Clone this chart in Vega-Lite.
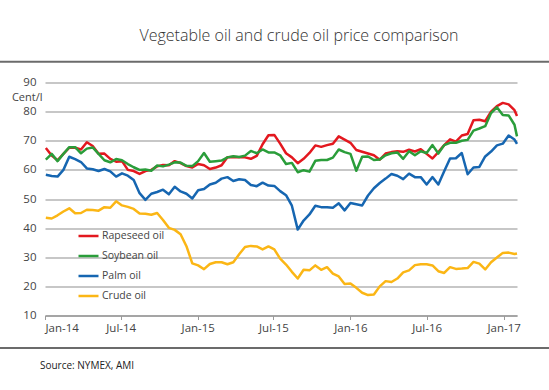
{
  "$schema": "https://vega.github.io/schema/vega-lite/v6.json",
  "autosize": "none",
  "width": 472,
  "height": 233,
  "padding": {"left": 45, "top": 82.5, "right": 32, "bottom": 74.5},
  "background": "white",
  "config": {
    "view": {"stroke": null},
    "font": "Open Sans"
  },
  "title": {
    "text": "Vegetable oil and crude oil price comparison",
    "anchor": "middle",
    "frame": "group",
    "dx": 18,
    "offset": 17,
    "fontSize": 16,
    "fontWeight": 300,
    "font": "Open Sans",
    "color": "#333333"
  },
  "encoding": {
    "x": {
      "field": "date",
      "type": "temporal",
      "scale": {
        "type": "utc",
        "domain": [
          {"year": 2014, "month": 1, "date": 1, "utc": true},
          {"year": 2017, "month": 2, "date": 2, "utc": true}
        ]
      },
      "axis": {
        "title": null,
        "values": [
          {"year": 2014, "month": 1, "date": 1, "utc": true},
          {"year": 2014, "month": 7, "date": 1, "utc": true},
          {"year": 2015, "month": 1, "date": 1, "utc": true},
          {"year": 2015, "month": 7, "date": 1, "utc": true},
          {"year": 2016, "month": 1, "date": 1, "utc": true},
          {"year": 2016, "month": 7, "date": 1, "utc": true},
          {"year": 2017, "month": 1, "date": 1, "utc": true}
        ],
        "labelExpr": "utcFormat(datum.value, '%b-%y')",
        "grid": false,
        "domainColor": "#9a9a9a",
        "domainWidth": 1.3,
        "tickColor": "#9a9a9a",
        "tickSize": 4,
        "labelFontSize": 11.5,
        "labelColor": "#444444",
        "labelPadding": 3,
        "labelFont": "Open Sans"
      }
    },
    "y": {
      "field": "price",
      "type": "quantitative",
      "scale": {"domain": [10, 90], "nice": false, "zero": false},
      "axis": {
        "title": "Cent/l",
        "titleAngle": 0,
        "titleAlign": "right",
        "titleBaseline": "alphabetic",
        "titleX": -3,
        "titleY": 18,
        "titleFontSize": 11,
        "titleFontWeight": "normal",
        "titleColor": "#444444",
        "titleFont": "Open Sans",
        "values": [10, 20, 30, 40, 50, 60, 70, 80, 90],
        "domain": false,
        "ticks": false,
        "labelPadding": 9,
        "labelFontSize": 11.5,
        "labelColor": "#444444",
        "labelFont": "Open Sans",
        "gridColor": "#b5b5b5",
        "gridWidth": 1.3
      }
    }
  },
  "layer": [
    {
      "data": {"values": [
        {"date": "2013-09-10", "end": "2017-04-30", "price": 97.15},
        {"date": "2013-09-10", "end": "2017-04-30", "price": -1.2}
      ]},
      "mark": {"type": "rule", "color": "#6b6b6b", "strokeWidth": 2, "clip": false},
      "encoding": {
        "x2": {"field": "end"}
      }
    },
    {
      "data": {"values": [
        {"date": "2014-01-03", "Rapeseed oil": 67.5, "Soybean oil": 63.5, "Palm oil": 58.3, "Crude oil": 43.6},
        {"date": "2014-01-17", "Rapeseed oil": 64.9, "Soybean oil": 65.5, "Palm oil": 57.9, "Crude oil": 43.3},
        {"date": "2014-01-31", "Rapeseed oil": 63.3, "Soybean oil": 63.0, "Palm oil": 57.7, "Crude oil": 44.4},
        {"date": "2014-02-14", "Rapeseed oil": 65.5, "Soybean oil": 65.5, "Palm oil": 60.0, "Crude oil": 45.7},
        {"date": "2014-02-28", "Rapeseed oil": 67.6, "Soybean oil": 67.8, "Palm oil": 64.5, "Crude oil": 46.8},
        {"date": "2014-03-14", "Rapeseed oil": 67.6, "Soybean oil": 67.8, "Palm oil": 63.7, "Crude oil": 45.1},
        {"date": "2014-03-28", "Rapeseed oil": 67.0, "Soybean oil": 65.7, "Palm oil": 62.7, "Crude oil": 45.2},
        {"date": "2014-04-11", "Rapeseed oil": 69.5, "Soybean oil": 67.3, "Palm oil": 60.5, "Crude oil": 46.3},
        {"date": "2014-04-25", "Rapeseed oil": 68.2, "Soybean oil": 67.7, "Palm oil": 60.2, "Crude oil": 46.2},
        {"date": "2014-05-09", "Rapeseed oil": 65.5, "Soybean oil": 65.5, "Palm oil": 59.6, "Crude oil": 46.0},
        {"date": "2014-05-23", "Rapeseed oil": 65.6, "Soybean oil": 63.3, "Palm oil": 60.3, "Crude oil": 47.2},
        {"date": "2014-06-06", "Rapeseed oil": 63.8, "Soybean oil": 62.6, "Palm oil": 59.5, "Crude oil": 47.0},
        {"date": "2014-06-20", "Rapeseed oil": 62.8, "Soybean oil": 63.7, "Palm oil": 57.7, "Crude oil": 49.2},
        {"date": "2014-07-04", "Rapeseed oil": 63.0, "Soybean oil": 63.3, "Palm oil": 58.8, "Crude oil": 47.8},
        {"date": "2014-07-18", "Rapeseed oil": 60.0, "Soybean oil": 62.0, "Palm oil": 58.0, "Crude oil": 47.3},
        {"date": "2014-08-01", "Rapeseed oil": 59.6, "Soybean oil": 60.9, "Palm oil": 56.5, "Crude oil": 46.6},
        {"date": "2014-08-15", "Rapeseed oil": 58.6, "Soybean oil": 60.0, "Palm oil": 52.0, "Crude oil": 45.0},
        {"date": "2014-08-29", "Rapeseed oil": 59.6, "Soybean oil": 60.1, "Palm oil": 49.7, "Crude oil": 44.9},
        {"date": "2014-09-12", "Rapeseed oil": 60.0, "Soybean oil": 59.7, "Palm oil": 51.8, "Crude oil": 44.6},
        {"date": "2014-09-26", "Rapeseed oil": 61.2, "Soybean oil": 61.5, "Palm oil": 52.4, "Crude oil": 45.2},
        {"date": "2014-10-10", "Rapeseed oil": 61.7, "Soybean oil": 61.2, "Palm oil": 53.2, "Crude oil": 42.8},
        {"date": "2014-10-24", "Rapeseed oil": 61.6, "Soybean oil": 61.8, "Palm oil": 51.6, "Crude oil": 40.1},
        {"date": "2014-11-07", "Rapeseed oil": 63.0, "Soybean oil": 62.6, "Palm oil": 54.2, "Crude oil": 39.4},
        {"date": "2014-11-21", "Rapeseed oil": 62.3, "Soybean oil": 62.5, "Palm oil": 52.6, "Crude oil": 37.9},
        {"date": "2014-12-05", "Rapeseed oil": 61.3, "Soybean oil": 61.4, "Palm oil": 51.8, "Crude oil": 33.8},
        {"date": "2014-12-19", "Rapeseed oil": 60.8, "Soybean oil": 61.3, "Palm oil": 50.2, "Crude oil": 27.9},
        {"date": "2015-01-02", "Rapeseed oil": 62.0, "Soybean oil": 63.0, "Palm oil": 53.0, "Crude oil": 27.2},
        {"date": "2015-01-16", "Rapeseed oil": 61.6, "Soybean oil": 65.8, "Palm oil": 53.4, "Crude oil": 25.9},
        {"date": "2015-01-30", "Rapeseed oil": 60.3, "Soybean oil": 62.8, "Palm oil": 55.0, "Crude oil": 27.7},
        {"date": "2015-02-13", "Rapeseed oil": 60.8, "Soybean oil": 63.0, "Palm oil": 55.6, "Crude oil": 28.3},
        {"date": "2015-02-27", "Rapeseed oil": 61.6, "Soybean oil": 63.2, "Palm oil": 57.0, "Crude oil": 28.3},
        {"date": "2015-03-13", "Rapeseed oil": 64.3, "Soybean oil": 64.3, "Palm oil": 57.5, "Crude oil": 27.6},
        {"date": "2015-03-27", "Rapeseed oil": 64.4, "Soybean oil": 64.7, "Palm oil": 56.2, "Crude oil": 28.3},
        {"date": "2015-04-10", "Rapeseed oil": 64.3, "Soybean oil": 64.4, "Palm oil": 56.8, "Crude oil": 31.0},
        {"date": "2015-04-24", "Rapeseed oil": 64.3, "Soybean oil": 64.9, "Palm oil": 56.5, "Crude oil": 33.5},
        {"date": "2015-05-08", "Rapeseed oil": 63.8, "Soybean oil": 66.5, "Palm oil": 54.8, "Crude oil": 33.9},
        {"date": "2015-05-22", "Rapeseed oil": 64.8, "Soybean oil": 65.7, "Palm oil": 54.4, "Crude oil": 33.7},
        {"date": "2015-06-05", "Rapeseed oil": 68.8, "Soybean oil": 67.0, "Palm oil": 55.6, "Crude oil": 32.7},
        {"date": "2015-06-19", "Rapeseed oil": 71.9, "Soybean oil": 66.0, "Palm oil": 54.6, "Crude oil": 33.7},
        {"date": "2015-07-03", "Rapeseed oil": 72.0, "Soybean oil": 66.0, "Palm oil": 54.5, "Crude oil": 32.7},
        {"date": "2015-07-17", "Rapeseed oil": 69.0, "Soybean oil": 65.0, "Palm oil": 52.7, "Crude oil": 29.5},
        {"date": "2015-07-31", "Rapeseed oil": 65.7, "Soybean oil": 62.0, "Palm oil": 51.3, "Crude oil": 27.5},
        {"date": "2015-08-14", "Rapeseed oil": 64.3, "Soybean oil": 62.4, "Palm oil": 47.7, "Crude oil": 25.0},
        {"date": "2015-08-28", "Rapeseed oil": 62.3, "Soybean oil": 59.2, "Palm oil": 39.5, "Crude oil": 22.7},
        {"date": "2015-09-11", "Rapeseed oil": 63.8, "Soybean oil": 59.9, "Palm oil": 42.6, "Crude oil": 25.7},
        {"date": "2015-09-25", "Rapeseed oil": 65.8, "Soybean oil": 59.4, "Palm oil": 44.7, "Crude oil": 25.5},
        {"date": "2015-10-09", "Rapeseed oil": 68.4, "Soybean oil": 63.1, "Palm oil": 47.7, "Crude oil": 27.2},
        {"date": "2015-10-23", "Rapeseed oil": 67.9, "Soybean oil": 63.4, "Palm oil": 47.2, "Crude oil": 25.7},
        {"date": "2015-11-06", "Rapeseed oil": 68.5, "Soybean oil": 63.4, "Palm oil": 47.2, "Crude oil": 26.6},
        {"date": "2015-11-20", "Rapeseed oil": 69.0, "Soybean oil": 64.2, "Palm oil": 47.0, "Crude oil": 24.4},
        {"date": "2015-12-04", "Rapeseed oil": 71.5, "Soybean oil": 67.0, "Palm oil": 48.5, "Crude oil": 23.4},
        {"date": "2015-12-18", "Rapeseed oil": 70.4, "Soybean oil": 66.1, "Palm oil": 46.1, "Crude oil": 20.8},
        {"date": "2016-01-01", "Rapeseed oil": 69.3, "Soybean oil": 65.5, "Palm oil": 48.6, "Crude oil": 21.0},
        {"date": "2016-01-15", "Rapeseed oil": 66.8, "Soybean oil": 59.7, "Palm oil": 48.2, "Crude oil": 19.5},
        {"date": "2016-01-29", "Rapeseed oil": 66.2, "Soybean oil": 64.5, "Palm oil": 47.8, "Crude oil": 17.8},
        {"date": "2016-02-12", "Rapeseed oil": 65.6, "Soybean oil": 64.6, "Palm oil": 51.2, "Crude oil": 17.0},
        {"date": "2016-02-26", "Rapeseed oil": 65.0, "Soybean oil": 63.4, "Palm oil": 53.7, "Crude oil": 17.2},
        {"date": "2016-03-11", "Rapeseed oil": 63.5, "Soybean oil": 63.6, "Palm oil": 55.5, "Crude oil": 20.0},
        {"date": "2016-03-25", "Rapeseed oil": 65.6, "Soybean oil": 65.0, "Palm oil": 57.0, "Crude oil": 21.8},
        {"date": "2016-04-08", "Rapeseed oil": 66.1, "Soybean oil": 65.7, "Palm oil": 58.6, "Crude oil": 21.5},
        {"date": "2016-04-22", "Rapeseed oil": 66.4, "Soybean oil": 66.0, "Palm oil": 58.0, "Crude oil": 22.7},
        {"date": "2016-05-06", "Rapeseed oil": 66.2, "Soybean oil": 63.8, "Palm oil": 56.8, "Crude oil": 24.8},
        {"date": "2016-05-20", "Rapeseed oil": 66.9, "Soybean oil": 66.4, "Palm oil": 58.7, "Crude oil": 25.5},
        {"date": "2016-06-03", "Rapeseed oil": 66.3, "Soybean oil": 65.0, "Palm oil": 57.5, "Crude oil": 27.3},
        {"date": "2016-06-17", "Rapeseed oil": 67.1, "Soybean oil": 66.4, "Palm oil": 57.5, "Crude oil": 27.6},
        {"date": "2016-07-01", "Rapeseed oil": 65.5, "Soybean oil": 65.8, "Palm oil": 55.0, "Crude oil": 27.6},
        {"date": "2016-07-15", "Rapeseed oil": 63.9, "Soybean oil": 68.5, "Palm oil": 57.5, "Crude oil": 27.2},
        {"date": "2016-07-29", "Rapeseed oil": 66.1, "Soybean oil": 65.6, "Palm oil": 55.0, "Crude oil": 25.2},
        {"date": "2016-08-12", "Rapeseed oil": 68.5, "Soybean oil": 68.5, "Palm oil": 59.5, "Crude oil": 24.6},
        {"date": "2016-08-26", "Rapeseed oil": 70.5, "Soybean oil": 69.3, "Palm oil": 63.9, "Crude oil": 26.6},
        {"date": "2016-09-09", "Rapeseed oil": 69.7, "Soybean oil": 69.3, "Palm oil": 64.0, "Crude oil": 26.0},
        {"date": "2016-09-23", "Rapeseed oil": 71.8, "Soybean oil": 70.0, "Palm oil": 65.8, "Crude oil": 26.1},
        {"date": "2016-10-07", "Rapeseed oil": 72.3, "Soybean oil": 70.3, "Palm oil": 58.5, "Crude oil": 26.3},
        {"date": "2016-10-21", "Rapeseed oil": 77.0, "Soybean oil": 73.5, "Palm oil": 60.8, "Crude oil": 28.4},
        {"date": "2016-11-04", "Rapeseed oil": 77.2, "Soybean oil": 74.2, "Palm oil": 61.0, "Crude oil": 27.8},
        {"date": "2016-11-18", "Rapeseed oil": 76.7, "Soybean oil": 75.0, "Palm oil": 64.6, "Crude oil": 25.8},
        {"date": "2016-12-02", "Rapeseed oil": 80.0, "Soybean oil": 79.5, "Palm oil": 66.3, "Crude oil": 28.3},
        {"date": "2016-12-16", "Rapeseed oil": 81.9, "Soybean oil": 81.5, "Palm oil": 68.4, "Crude oil": 29.9},
        {"date": "2016-12-30", "Rapeseed oil": 83.0, "Soybean oil": 78.8, "Palm oil": 69.0, "Crude oil": 31.5},
        {"date": "2017-01-13", "Rapeseed oil": 82.5, "Soybean oil": 78.7, "Palm oil": 71.8, "Crude oil": 31.6},
        {"date": "2017-01-27", "Rapeseed oil": 80.5, "Soybean oil": 75.5, "Palm oil": 70.4, "Crude oil": 31.1},
        {"date": "2017-02-02", "Rapeseed oil": 78.5, "Soybean oil": 71.5, "Palm oil": 68.9, "Crude oil": 31.3}
      ]},
      "transform": [
        {"fold": ["Rapeseed oil", "Soybean oil", "Palm oil", "Crude oil"], "as": ["series", "price"]}
      ],
      "mark": {"type": "line", "strokeWidth": 2.5, "strokeJoin": "round"},
      "encoding": {
        "color": {
          "field": "series",
          "type": "nominal",
          "sort": ["Rapeseed oil", "Soybean oil", "Palm oil", "Crude oil"],
          "scale": {
            "domain": ["Rapeseed oil", "Soybean oil", "Palm oil", "Crude oil"],
            "range": ["#e3181f", "#2a9d3a", "#1666b1", "#fbb615"]
          },
          "legend": {
            "title": null,
            "orient": "none",
            "legendX": 32,
            "legendY": 142,
            "padding": 0,
            "symbolType": "stroke",
            "symbolSize": 400,
            "symbolStrokeWidth": 2.5,
            "labelFontSize": 10.5,
            "labelColor": "#444444",
            "labelFont": "Open Sans",
            "labelOffset": 2,
            "rowPadding": 3
          }
        }
      }
    },
    {
      "data": {"values": [{"date": "2013-12-20", "price": -8.4, "label": "Source: NYMEX, AMI"}]},
      "mark": {"type": "text", "align": "left", "baseline": "alphabetic", "fontSize": 10, "font": "Open Sans", "color": "#222222", "clip": false},
      "encoding": {
        "text": {"field": "label"}
      }
    }
  ]
}
